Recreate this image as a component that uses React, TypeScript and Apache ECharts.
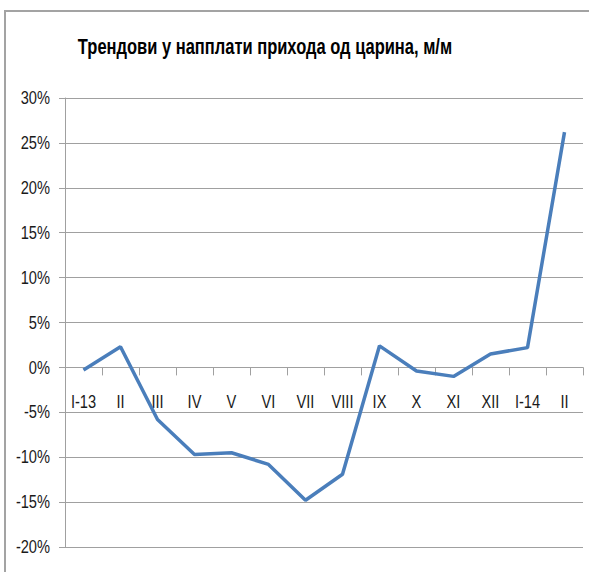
import React, { useEffect, useRef } from "react";
import * as echarts from "echarts";

const categories = ["I-13", "II", "III", "IV", "V", "VI", "VII", "VIII", "IX", "X", "XI", "XII", "I-14", "II"];
const values = [-0.3, 2.3, -5.8, -9.7, -9.5, -10.8, -14.8, -11.9, 2.4, -0.4, -1.0, 1.5, 2.2, 26.2];
const titleText = "Трендови у напплати прихода од царина, м/м";
const yMin = -20;
const yMax = 30;
const yStep = 5;
const yTicks = [30, 25, 20, 15, 10, 5, 0, -5, -10, -15, -20];

const FONT = "'Liberation Sans', Arial, sans-serif";
const NARROW = 0.77;

export default function App() {
  const ref = useRef<HTMLDivElement>(null);
  useEffect(() => {
    document.body.style.margin = "0";
    const chart = echarts.init(ref.current!, null, { renderer: "svg" });
    chart.setOption({
      animation: false,
      backgroundColor: "#ffffff",
      grid: { left: 65, right: 6, top: 98, bottom: 25, containLabel: false, outerBoundsMode: "none" },
      xAxis: {
        type: "category",
        data: categories,
        boundaryGap: true,
        position: "bottom",
        offset: 0,
        axisLine: { show: true, onZero: false, lineStyle: { color: "#a0a0a0", width: 1 } },
        axisTick: { show: true, inside: false, length: 8, lineStyle: { color: "#a0a0a0", width: 1 } },
        axisLabel: { show: false },
        splitLine: { show: false },
      },
      yAxis: {
        type: "value",
        min: yMin,
        max: yMax,
        interval: yStep,
        axisLine: { show: true, lineStyle: { color: "#a0a0a0", width: 1 } },
        axisTick: { show: true, inside: false, length: 6, lineStyle: { color: "#a0a0a0" } },
        axisLabel: { show: false },
        splitLine: { show: true, lineStyle: { color: "#a0a0a0", width: 1 } },
      },
      series: [
        {
          type: "line",
          data: values,
          symbol: "none",
          lineStyle: { color: "#4a7ebb", width: 3.5 },
          itemStyle: { color: "#4a7ebb" },
        },
      ],
    });

    const zeroY = chart.convertToPixel({ yAxisIndex: 0 }, 0) as number;
    const bottomY = chart.convertToPixel({ yAxisIndex: 0 }, yMin) as number;
    const gridLeft = 65;

    const graphics: any[] = [
      {
        type: "rect",
        shape: { x: 5, y: 11, width: 620, height: 600 },
        style: { fill: "none", stroke: "#a3a3a3", lineWidth: 2 },
        silent: true,
      },
      {
        type: "text",
        x: 265,
        y: 46,
        scaleX: 0.75,
        style: {
          x: 0,
          y: 0,
          text: titleText,
          font: `bold 22px ${FONT}`,
          fill: "#000000",
          textAlign: "center",
          textVerticalAlign: "middle",
        },
      },
    ];
    yTicks.forEach((v) => {
      const py = chart.convertToPixel({ yAxisIndex: 0 }, v) as number;
      graphics.push({
        type: "text",
        x: gridLeft - 15,
        y: py,
        scaleX: NARROW,
        style: {
          x: 0,
          y: 0,
          text: `${v}%`,
          font: `19px ${FONT}`,
          fill: "#1a1a1a",
          textAlign: "right",
          textVerticalAlign: "middle",
        },
      });
    });
    categories.forEach((c, i) => {
      const px = chart.convertToPixel({ xAxisIndex: 0 }, i) as number;
      graphics.push({
        type: "text",
        x: px,
        y: zeroY + 34,
        scaleX: NARROW,
        style: {
          x: 0,
          y: 0,
          text: c,
          font: `19px ${FONT}`,
          fill: "#1a1a1a",
          textAlign: "center",
          textVerticalAlign: "middle",
        },
      });
    });
    chart.setOption({ xAxis: { offset: -(bottomY - zeroY) }, graphic: graphics });
    return () => chart.dispose();
  }, []);
  return <div ref={ref} style={{ position: "fixed", left: 0, top: 0, width: 589, height: 572 }} />;
}
